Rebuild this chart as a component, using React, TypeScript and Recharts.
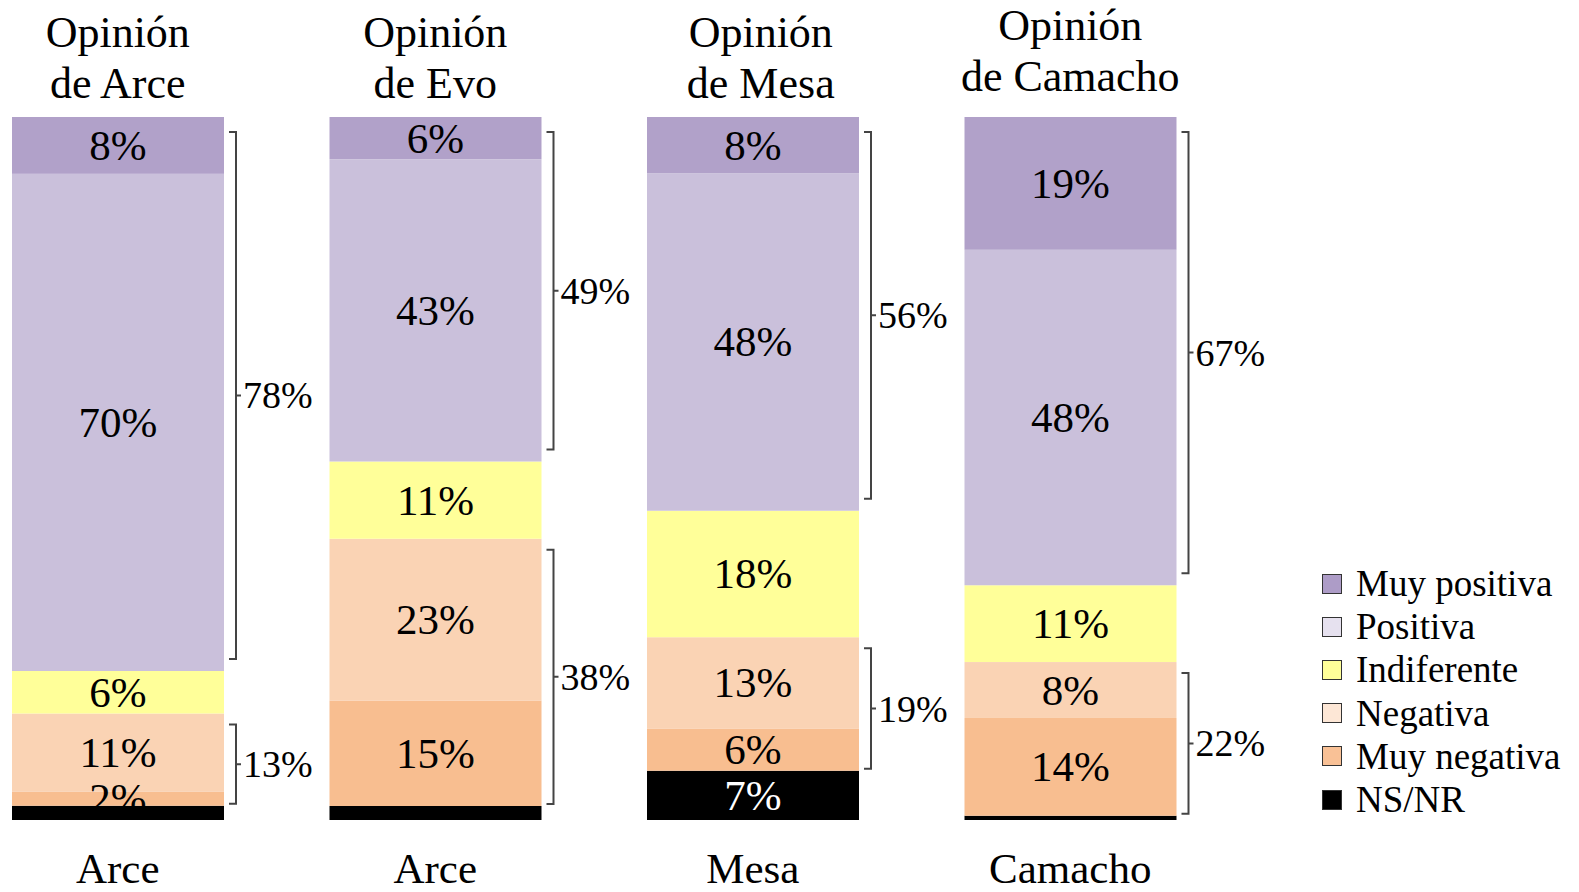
import { BarChart, Bar, XAxis, YAxis, LabelList } from "recharts";

// candidates (bar order) and texts around the bars
const candidates = ["Arce", "Evo", "Mesa", "Camacho"];
const bottomLabels = ["Arce", "Arce", "Mesa", "Camacho"];
const titleTop = ["Opinión", "Opinión", "Opinión", "Opinión"];
const titleBottom = ["de Arce", "de Evo", "de Mesa", "de Camacho"];

// shares in %
const muyPositiva = [8, 6, 8, 19];
const positiva = [70, 43, 48, 48];
const indiferente = [6, 11, 18, 11];
const negativa = [11, 23, 13, 8];
const muyNegativa = [2, 15, 6, 14];
const nsnr = [2, 2, 7, 0.6];

// bracket totals
const positiveTotals = [78, 49, 56, 67];
const negativeTotals = [13, 38, 19, 22];

const seriesNames = ["Muy positiva", "Positiva", "Indiferente", "Negativa", "Muy negativa", "NS/NR"];

const COLORS = {
  muyPositiva: "#B1A1C9",
  positiva: "#CAC0DB",
  indiferente: "#FFFF99",
  negativa: "#FAD3B4",
  muyNegativa: "#F8BE90",
  nsnr: "#000000",
};
const LEGEND_COLORS = ["#AD9CC7", "#E6E1EF", "#FFFF99", "#FDE7D6", "#F9C196", "#000000"];

const FONT = '"Liberation Serif", "Times New Roman", serif';

const data = candidates.map((name, i) => ({
  name,
  muyPositiva: muyPositiva[i],
  positiva: positiva[i],
  indiferente: indiferente[i],
  negativa: negativa[i],
  muyNegativa: muyNegativa[i],
  nsnr: nsnr[i],
}));

function Bracket({ x, y1, y2, label }: { x: number; y1: number; y2: number; label: number }) {
  const mid = (y1 + y2) / 2;
  return (
    <g>
      <path
        d={`M${x - 7},${y1} L${x},${y1} L${x},${y2} L${x - 7},${y2} M${x},${mid} L${x + 5},${mid}`}
        fill="none"
        stroke="#444"
        strokeWidth={2}
      />
      <text x={x + 7} y={mid} dominantBaseline="central" fontFamily={FONT} fontSize={38} fill="#000">
        {label}%
      </text>
    </g>
  );
}

function idx(props: any) {
  if (typeof props.index === "number") return props.index;
  return candidates.indexOf(props.payload?.name);
}

// top segment: also draws the bracket spanning "Muy positiva" + "Positiva"
function PositiveShape(props: any) {
  const { x, y, width, height, fill } = props;
  const i = idx(props);
  const bottom = y + (height * (muyPositiva[i] + positiva[i])) / muyPositiva[i];
  return (
    <g>
      <rect x={x} y={y} width={width} height={height} fill={fill} />
      <Bracket x={x + width + 12} y1={y + 15} y2={bottom - 12} label={positiveTotals[i]} />
    </g>
  );
}

// "Negativa" segment: also draws the bracket spanning "Negativa" + "Muy negativa"
function NegativeShape(props: any) {
  const { x, y, width, height, fill } = props;
  const i = idx(props);
  const bottom = y + (height * (negativa[i] + muyNegativa[i])) / negativa[i];
  return (
    <g>
      <rect x={x} y={y} width={width} height={height} fill={fill} />
      <Bracket x={x + width + 12} y1={y + 11} y2={bottom - 2} label={negativeTotals[i]} />
    </g>
  );
}

function segmentLabel(values: number[], color = "#000", minValue = 0) {
  return (props: any) => {
    const i = props.index;
    const v = values[i];
    if (v === undefined || v < minValue) return null;
    const vb = props.viewBox ?? props;
    const cx = vb.x + vb.width / 2;
    const cy = vb.y + vb.height / 2;
    return (
      <text
        key={`l-${i}`}
        x={cx}
        y={cy}
        textAnchor="middle"
        dominantBaseline="central"
        fontFamily={FONT}
        fontSize={43}
        fill={color}
      >
        {v}%
      </text>
    );
  };
}

const titleDx = [0, 0, 8, 0];
const titleDy = [0, 0, 0, -7];

function TitleTick(props: any) {
  const i = props.index ?? props.payload?.index ?? 0;
  const x = props.x + titleDx[i];
  return (
    <g>
      <text x={x} y={47 + titleDy[i]} textAnchor="middle" fontFamily={FONT} fontSize={44} fill="#000">
        {titleTop[i]}
      </text>
      <text x={x} y={98 + titleDy[i]} textAnchor="middle" fontFamily={FONT} fontSize={44} fill="#000">
        {titleBottom[i]}
      </text>
    </g>
  );
}

function BottomTick(props: any) {
  const i = props.index ?? props.payload?.index ?? 0;
  return (
    <text x={props.x} y={883} textAnchor="middle" fontFamily={FONT} fontSize={43} fill="#000">
      {bottomLabels[i]}
    </text>
  );
}

function LegendBox() {
  return (
    <div style={{ position: "absolute", left: 1322, top: 562, fontFamily: FONT, fontSize: 37 }}>
      {seriesNames.map((n, i) => (
        <div key={n} style={{ display: "flex", alignItems: "center", height: 43.2 }}>
          <span
            style={{
              display: "inline-block",
              width: 18,
              height: 18,
              background: LEGEND_COLORS[i],
              border: "1.5px solid #333",
              marginRight: 14,
            }}
          />
          <span style={{ lineHeight: "43px", color: "#000", whiteSpace: "nowrap" }}>{n}</span>
        </div>
      ))}
    </div>
  );
}

export default function App() {
  return (
    <div
      style={{
        position: "absolute",
        left: 0,
        top: 0,
        width: 1579,
        height: 892,
        overflow: "hidden",
        background: "#fff",
      }}
    >
      <div style={{ position: "absolute", left: -41, top: 0 }}>
        <BarChart
          width={1620}
          height={892}
          data={data}
          stackOffset="expand"
          barSize={212}
          barCategoryGap={0}
          margin={{ top: 97, right: 350, bottom: 52, left: 0 }}
        >
          <XAxis
            dataKey="name"
            axisLine={false}
            tickLine={false}
            interval={0}
            height={20}
            tick={<BottomTick />}
          />
          <XAxis
            xAxisId="top"
            orientation="top"
            dataKey="name"
            axisLine={false}
            tickLine={false}
            interval={0}
            height={20}
            tick={<TitleTick />}
          />
          <YAxis hide domain={[0, 1]} />
          <Bar dataKey="nsnr" stackId="a" fill={COLORS.nsnr} isAnimationActive={false}>
            <LabelList content={segmentLabel(nsnr, "#fff", 5)} />
          </Bar>
          <Bar dataKey="muyNegativa" stackId="a" fill={COLORS.muyNegativa} isAnimationActive={false}>
            <LabelList content={segmentLabel(muyNegativa)} />
          </Bar>
          <Bar
            dataKey="negativa"
            stackId="a"
            fill={COLORS.negativa}
            shape={NegativeShape}
            isAnimationActive={false}
          >
            <LabelList content={segmentLabel(negativa)} />
          </Bar>
          <Bar dataKey="indiferente" stackId="a" fill={COLORS.indiferente} isAnimationActive={false}>
            <LabelList content={segmentLabel(indiferente)} />
          </Bar>
          <Bar dataKey="positiva" stackId="a" fill={COLORS.positiva} isAnimationActive={false}>
            <LabelList content={segmentLabel(positiva)} />
          </Bar>
          <Bar
            dataKey="muyPositiva"
            stackId="a"
            fill={COLORS.muyPositiva}
            shape={PositiveShape}
            isAnimationActive={false}
          >
            <LabelList content={segmentLabel(muyPositiva)} />
          </Bar>
        </BarChart>
      </div>
      <LegendBox />
    </div>
  );
}
